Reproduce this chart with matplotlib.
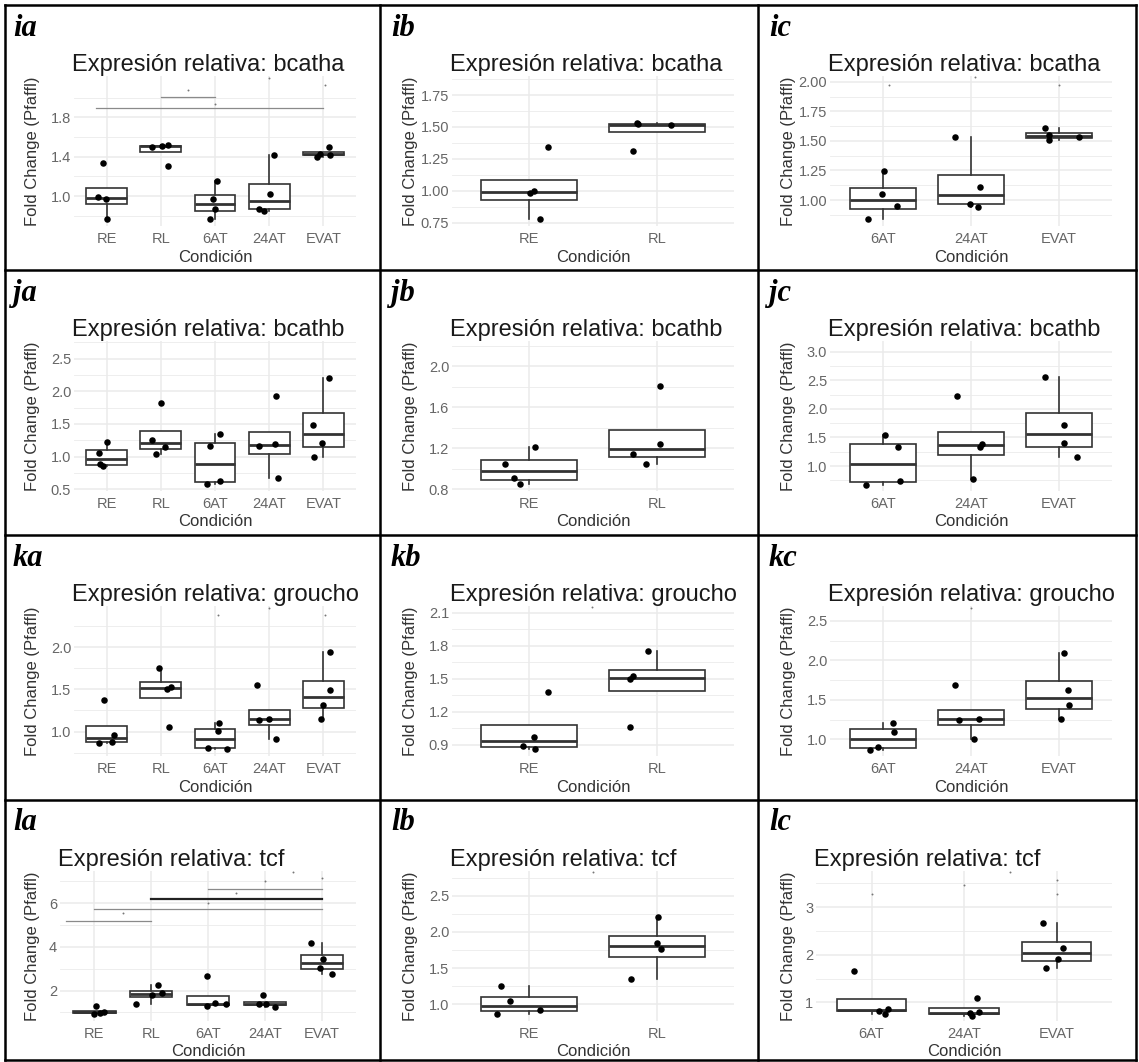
import numpy as np
import matplotlib
matplotlib.use("Agg")
import matplotlib.pyplot as plt
from matplotlib.lines import Line2D

plt.rcParams["font.family"] = ["Liberation Sans", "DejaVu Sans"]

# Grupos de cada columna
grupos_a = ["RE", "RL", "6AT", "24AT", "EVAT"]
grupos_b = ["RE", "RL"]
grupos_c = ["6AT", "24AT", "EVAT"]

# Fold change por condición (4 réplicas) y desplazamiento del jitter
ia_vals = [[1.34, 0.99, 0.97, 0.77], [1.50, 1.51, 1.52, 1.30], [1.15, 0.97, 0.87, 0.77],
           [1.42, 1.02, 0.87, 0.85], [1.40, 1.43, 1.50, 1.42]]
ia_dx = [[-0.06, -0.15, -0.01, 0.0], [-0.17, 0.02, 0.14, 0.14], [0.03, -0.03, 0.0, -0.09],
         [0.09, 0.02, -0.19, -0.09], [-0.12, -0.06, 0.11, 0.12]]

ib_vals = [[1.345, 1.00, 0.98, 0.775], [1.53, 1.52, 1.515, 1.31]]
ib_dx = [[0.15, 0.04, 0.01, 0.09], [-0.16, -0.15, 0.11, -0.19]]

ic_vals = [[1.245, 1.05, 0.95, 0.84], [1.53, 1.11, 0.97, 0.94], [1.61, 1.55, 1.51, 1.53]]
ic_dx = [[0.01, -0.01, 0.16, -0.17], [-0.18, 0.10, -0.01, 0.08], [-0.16, -0.11, -0.12, 0.22]]

ja_vals = [[1.23, 1.06, 0.88, 0.85], [1.82, 1.255, 1.15, 1.04], [1.34, 1.16, 0.58, 0.62],
           [1.93, 1.16, 1.19, 0.67], [2.21, 1.49, 1.21, 0.99]]
ja_dx = [[0.0, -0.14, -0.12, -0.06], [0.0, -0.17, 0.08, -0.09], [0.10, -0.09, -0.14, 0.09],
         [0.12, -0.19, 0.10, 0.17], [0.11, -0.20, -0.02, -0.17]]

jb_vals = [[1.215, 1.047, 0.91, 0.85], [1.81, 1.24, 1.14, 1.044]]
jb_dx = [[0.05, -0.19, -0.12, -0.07], [0.02, 0.02, -0.19, -0.09]]

jc_vals = [[1.55, 1.34, 0.67, 0.73], [2.22, 1.385, 1.34, 0.78], [2.56, 1.72, 1.40, 1.15]]
jc_dx = [[0.02, 0.17, -0.19, 0.19], [-0.16, 0.13, 0.10, 0.02], [-0.16, 0.05, 0.06, 0.20]]

ka_vals = [[1.375, 0.96, 0.88, 0.86], [1.75, 1.53, 1.51, 1.06], [1.107, 1.008, 0.81, 0.79],
           [1.55, 1.14, 1.15, 0.91], [1.94, 1.49, 1.32, 1.15]]
ka_dx = [[-0.04, 0.14, 0.10, -0.14], [-0.03, 0.18, 0.12, 0.15], [0.07, 0.06, -0.12, 0.22],
         [-0.22, -0.19, -0.01, 0.12], [0.12, 0.12, -0.01, -0.04]]

kb_vals = [[1.383, 0.975, 0.89, 0.86], [1.755, 1.525, 1.495, 1.066]]
kb_dx = [[0.15, 0.04, -0.05, 0.05], [-0.07, -0.19, -0.21, -0.21]]

kc_vals = [[1.21, 1.10, 0.90, 0.87], [1.69, 1.25, 1.26, 1.0], [2.10, 1.62, 1.435, 1.26]]
kc_dx = [[0.11, 0.13, -0.06, -0.15], [-0.18, -0.14, 0.09, 0.03], [0.05, 0.10, 0.11, 0.02]]

la_vals = [[1.30, 1.02, 0.98, 0.92], [2.26, 1.91, 1.80, 1.37], [2.67, 1.31, 1.42, 1.37],
           [1.80, 1.37, 1.40, 1.27], [4.17, 3.44, 3.05, 2.75]]
la_dx = [[0.04, 0.18, 0.10, 0.0], [0.12, 0.19, 0.02, -0.26], [-0.02, -0.02, 0.13, 0.32],
         [-0.04, -0.10, 0.02, 0.17], [-0.19, 0.02, -0.03, 0.17]]

lb_vals = [[1.253, 1.046, 0.92, 0.866], [2.20, 1.85, 1.76, 1.35]]
lb_dx = [[-0.22, -0.15, 0.09, -0.25], [0.01, 0.0, 0.03, -0.20]]

lc_vals = [[1.67, 0.83, 0.75, 0.87], [1.10, 0.77, 0.72, 0.80], [2.66, 2.145, 1.92, 1.72]]
lc_dx = [[-0.19, 0.08, 0.15, 0.18], [0.14, 0.06, 0.09, 0.16], [-0.15, 0.07, 0.02, -0.11]]

# Marcas del eje y
ia_ticks, ia_lab = [1.0, 1.4, 1.8], ["1.0", "1.4", "1.8"]
ib_ticks, ib_lab = [0.75, 1.0, 1.25, 1.5, 1.75], ["0.75", "1.00", "1.25", "1.50", "1.75"]
ic_ticks, ic_lab = [1.0, 1.25, 1.5, 1.75, 2.0], ["1.00", "1.25", "1.50", "1.75", "2.00"]
ja_ticks, ja_lab = [0.5, 1.0, 1.5, 2.0, 2.5], ["0.5", "1.0", "1.5", "2.0", "2.5"]
jb_ticks, jb_lab = [0.8, 1.2, 1.6, 2.0], ["0.8", "1.2", "1.6", "2.0"]
jc_ticks, jc_lab = [1.0, 1.5, 2.0, 2.5, 3.0], ["1.0", "1.5", "2.0", "2.5", "3.0"]
ka_ticks, ka_lab = [1.0, 1.5, 2.0], ["1.0", "1.5", "2.0"]
kb_ticks, kb_lab = [0.9, 1.2, 1.5, 1.8, 2.1], ["0.9", "1.2", "1.5", "1.8", "2.1"]
kc_ticks, kc_lab = [1.0, 1.5, 2.0, 2.5], ["1.0", "1.5", "2.0", "2.5"]
la_ticks, la_lab = [2, 4, 6], ["2", "4", "6"]
lb_ticks, lb_lab = [1.0, 1.5, 2.0, 2.5], ["1.0", "1.5", "2.0", "2.5"]
lc_ticks, lc_lab = [1, 2, 3], ["1", "2", "3"]

# Rango del eje y de cada panel
ylims = {"ia": (0.695, 2.22), "ib": (0.723, 1.90), "ic": (0.78, 2.05),
         "ja": (0.474, 2.77), "jb": (0.784, 2.245), "jc": (0.563, 3.19),
         "ka": (0.71, 2.49), "kb": (0.80, 2.16), "kc": (0.79, 2.69),
         "la": (0.61, 7.48), "lb": (0.77, 2.84), "lc": (0.61, 3.76)}

# Comparaciones significativas (grupo inicial, grupo final, altura)
ia_brackets = [(-0.2, 4, 1.89), (1, 2, 2.01)]
la_brackets = [(-0.5, 1, 5.19), (0, 4, 5.72), (1, 4, 6.18), (2, 4, 6.64)]
# Etiquetas de significancia (quedan como puntos diminutos)
ia_marks = [(1.5, 2.08), (2.0, 1.94), (3.0, 2.20), (4.03, 2.13)]
ic_marks = [(0.07, 1.97), (1.04, 2.04), (2.0, 1.97)]
ka_marks = [(2.06, 2.38), (3.0, 2.47), (4.03, 2.38)]
kb_marks = [(0.49, 2.15)]
kc_marks = [(1.0, 2.67)]
la_marks = [(0.5, 5.54), (2.0, 6.0), (2.5, 6.46), (3.0, 7.0), (3.5, 7.42), (4.0, 7.14)]
lb_marks = [(0.5, 2.82)]
lc_marks = [(0.0, 3.28), (1.0, 3.47), (1.5, 3.74), (2.0, 3.28), (2.0, 3.58)]

panels = [
    ("ia", "bcatha", grupos_a, ia_vals, ia_dx, ia_ticks, ia_lab, ia_brackets, ia_marks),
    ("ib", "bcatha", grupos_b, ib_vals, ib_dx, ib_ticks, ib_lab, [], []),
    ("ic", "bcatha", grupos_c, ic_vals, ic_dx, ic_ticks, ic_lab, [], ic_marks),
    ("ja", "bcathb", grupos_a, ja_vals, ja_dx, ja_ticks, ja_lab, [], []),
    ("jb", "bcathb", grupos_b, jb_vals, jb_dx, jb_ticks, jb_lab, [], []),
    ("jc", "bcathb", grupos_c, jc_vals, jc_dx, jc_ticks, jc_lab, [], []),
    ("ka", "groucho", grupos_a, ka_vals, ka_dx, ka_ticks, ka_lab, [], ka_marks),
    ("kb", "groucho", grupos_b, kb_vals, kb_dx, kb_ticks, kb_lab, [], kb_marks),
    ("kc", "groucho", grupos_c, kc_vals, kc_dx, kc_ticks, kc_lab, [], kc_marks),
    ("la", "tcf", grupos_a, la_vals, la_dx, la_ticks, la_lab, la_brackets, la_marks),
    ("lb", "tcf", grupos_b, lb_vals, lb_dx, lb_ticks, lb_lab, [], lb_marks),
    ("lc", "tcf", grupos_c, lc_vals, lc_dx, lc_ticks, lc_lab, [], lc_marks),
]

W, H = 1139, 1062
fig = plt.figure(figsize=(W / 100, H / 100), dpi=100)


def fx(x):
    return x / W


def fy(y):
    return 1 - y / H


# Bordes de la tabla
col_edges = [5, 380, 758, 1136]
row_edges = [5, 270, 535, 800, 1060]
for x in col_edges:
    fig.add_artist(Line2D([fx(x), fx(x)], [fy(row_edges[0]), fy(row_edges[-1])],
                          color="black", lw=1.8))
for y in row_edges:
    fig.add_artist(Line2D([fx(col_edges[0]), fx(col_edges[-1])], [fy(y), fy(y)],
                          color="black", lw=1.8))

col_origin = [0, 378, 756]
row_origin = [0, 265, 530, 795]

GRID = "#EBEBEB"
LINE = "#333333"

for k, (lab, gen, grupos, vals, dx, ticks, tlabs, brackets, marks) in enumerate(panels):
    x0 = col_origin[k % 3]
    y0 = row_origin[k // 3]
    izq = 60 if lab in ("la", "lc") else 74
    top, bot, der = 76, 226, 356

    ax = fig.add_axes([fx(x0 + izq), fy(y0 + bot), (der - izq) / W, (bot - top) / H])
    n = len(grupos)
    pos = np.arange(n)

    ax.boxplot(vals, positions=pos, widths=0.75, whis=1.5, showfliers=False,
               showcaps=False, patch_artist=True,
               boxprops=dict(facecolor="white", edgecolor=LINE, lw=1.2),
               medianprops=dict(color=LINE, lw=2.0),
               whiskerprops=dict(color=LINE, lw=1.2), zorder=2)
    for i in range(n):
        ax.scatter(i + np.array(dx[i]), vals[i], s=22, color="black", zorder=4,
                   linewidths=0)

    for xa, xb, yb in brackets:
        oscuro = (lab == "la" and xa == 1)
        ax.plot([xa, xb], [yb, yb], color="#222222" if oscuro else "#8A8A8A",
                lw=1.6 if oscuro else 0.9, zorder=3)
    for xm, ym in marks:
        ax.plot(xm, ym, "o", ms=1.4, color="#777777", mec="none", zorder=3)

    ylo, yhi = ylims[lab]
    ax.set_xlim(-0.6, n - 0.4)
    ax.set_ylim(ylo, yhi)
    ax.set_xticks(pos)
    ax.set_xticklabels(grupos)
    ax.set_yticks(ticks)
    ax.set_yticklabels(tlabs)
    paso = ticks[1] - ticks[0]
    menores = np.arange(ticks[0] - paso / 2, yhi, paso)
    ax.set_yticks([m for m in menores if ylo < m < yhi], minor=True)

    ax.grid(which="major", color=GRID, lw=1.1, zorder=0)
    ax.grid(which="minor", axis="y", color=GRID, lw=0.6, zorder=0)
    ax.set_axisbelow(True)
    for s in ax.spines.values():
        s.set_visible(False)
    ax.tick_params(which="both", length=0, labelsize=10.5, labelcolor="#666666")
    ax.tick_params(axis="x", pad=4)
    ax.tick_params(axis="y", pad=2)

    # Textos de la celda
    fig.text(fx(x0 + 13), fy(y0 + 28), lab, ha="left", va="center",
             family="Liberation Serif", weight="bold", style="italic", fontsize=22)
    fig.text(fx(x0 + izq - 2), fy(y0 + 65), "Expresión relativa: " + gen,
             ha="left", va="center", fontsize=17, color="#1A1A1A")
    fig.text(fx(x0 + 33), fy(y0 + (top + bot) / 2), "Fold Change (Pfaffl)",
             ha="center", va="center", rotation=90, fontsize=12, color="#333333")
    fig.text(fx(x0 + (izq + der) / 2), fy(y0 + 257), "Condición",
             ha="center", va="center", fontsize=12, color="#333333")

fig.savefig("out.png", dpi=100, facecolor="white")
